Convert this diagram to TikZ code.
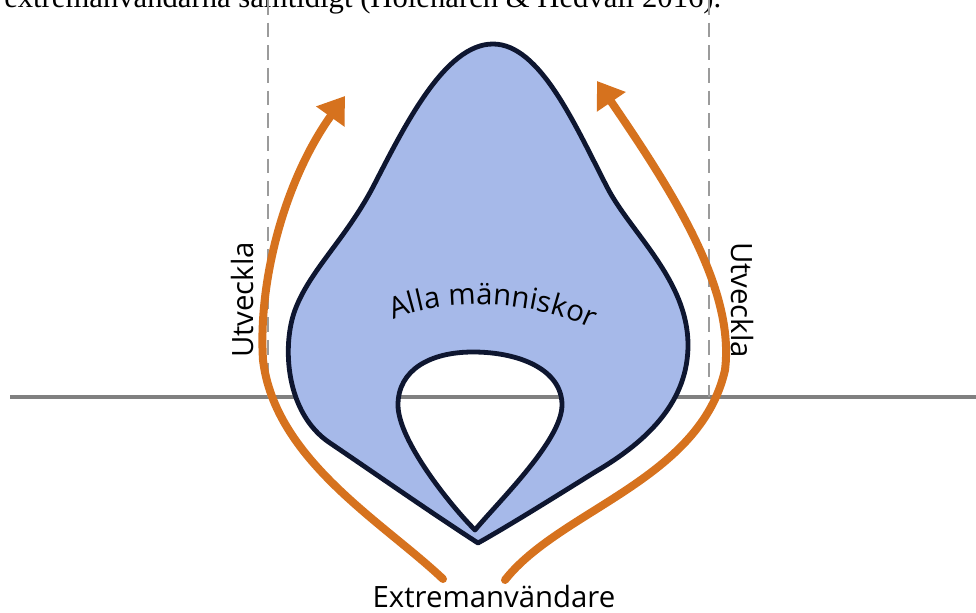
\documentclass[tikz,border=0pt]{standalone}
\usepackage{fontspec}
\setmainfont{Open Sans}
\newfontfamily\citefont{Liberation Serif}
\usetikzlibrary{arrows.meta,decorations.text}

\definecolor{peopleblue}{RGB}{166,185,233}
\definecolor{outlinenavy}{RGB}{14,22,48}
\definecolor{devorange}{RGB}{214,114,30}
\definecolor{levelgray}{RGB}{128,128,128}
\definecolor{guidegray}{RGB}{155,155,155}

\tikzset{
  lbl/.style={font=\fontsize{22}{26}\selectfont, inner sep=0pt},
  devarrow/.style={draw=devorange, line width=6pt, line cap=round, -{Triangle[length=19pt,width=25pt]}},
  levelline/.style={draw=levelgray, line width=2.6pt},
  dashguide/.style={draw=guidegray, line width=1.5pt, dash pattern=on 11pt off 6pt},
  peopleregion/.style={fill=peopleblue, draw=outlinenavy, line width=3.6pt, line join=round, even odd rule},
}

\begin{document}
\begin{tikzpicture}[x=0.75pt,y=0.75pt,yscale=-1,xscale=1]
\useasboundingbox (0,0) rectangle (976,613);

% caption line, cut off at the top edge
\begin{scope}
\clip (0,0) rectangle (976,613);
\node[anchor=base west, inner sep=0pt, font=\citefont\fontsize{23}{27}\selectfont] (cite) at (4,8) {extremanvändarna samtidigt (Holenarch \& Hedvall 2016).};
\end{scope}

% level line and dashed guides
\coordinate (levelL) at (10,397);
\coordinate (levelR) at (976,397);
\coordinate (guideLtop) at (268,0);
\coordinate (guideLbot) at (268,397);
\coordinate (guideRtop) at (709,0);
\coordinate (guideRbot) at (709,397);
\draw[levelline] (levelL) -- (levelR);
\draw[dashguide] (guideLtop) -- (guideLbot);
\draw[dashguide] (guideRtop) -- (guideRbot);

%Shape: all people, with the hole of the extreme users
\draw[peopleregion] (493,44) .. controls (540,44) and (575,125) .. (607,187)
  .. controls (630,232) and (688,280) .. (688,345)
  .. controls (688,400) and (650,440) .. (595,472)
  .. controls (550,500) and (510,525) .. (478,543)
  .. controls (430,512) and (370,470) .. (330,443)
  .. controls (285,413) and (282,345) .. (295,310)
  .. controls (310,270) and (345,240) .. (373,187)
  .. controls (405,125) and (445,44) .. (493,44) -- cycle
  (473,352) .. controls (520,352) and (562,370) .. (562,405)
  .. controls (562,440) and (500,500) .. (475,530)
  .. controls (450,505) and (398,440) .. (398,405)
  .. controls (398,370) and (430,352) .. (473,352) -- cycle ;

%Arrows: develop
\coordinate (startL) at (443,579);
\coordinate (bendL) at (263,360);
\coordinate (tipL) at (345,96);
\coordinate (startR) at (505,580);
\coordinate (bendR) at (725,370);
\coordinate (tipR) at (597,81);
\draw[devarrow] (startL) .. controls (383,522) and (275,460) .. (bendL) .. controls (258,280) and (285,180) .. (tipL);
\draw[devarrow] (startR) .. controls (560,510) and (700,480) .. (bendR) .. controls (735,290) and (675,195) .. (tipR);

% Text Node
\node[lbl] (ext) at (494,596) {Extremanvändare};
% Text Node
\node[lbl, rotate=90] (devL) at (242,300) {Utveckla};
% Text Node
\node[lbl, rotate=-90] (devR) at (742,300) {Utveckla};
% curved text
\path[decorate, decoration={text along path, text align=center, text={|\fontsize{22}{26}\selectfont|Alla människor}}] (385,324) .. controls (430,298) and (530,295) .. (600,333);

\end{tikzpicture}
\end{document}
